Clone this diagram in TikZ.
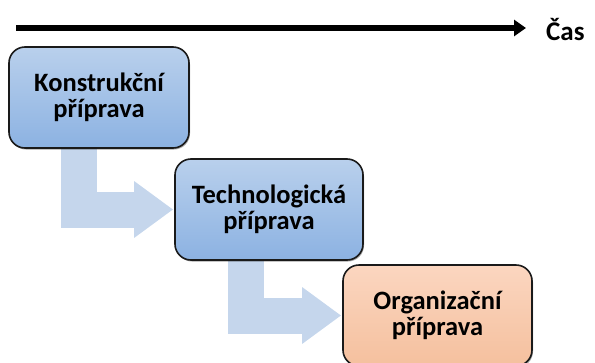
\documentclass[tikz,border=0pt]{standalone}
\usepackage{fontspec}
\setmainfont{Carlito}
\usetikzlibrary{arrows.meta,backgrounds,shadows}
\definecolor{boxtopblue}{HTML}{B9D0EC}
\definecolor{boxbotblue}{HTML}{8CB2E2}
\definecolor{boxtoporange}{HTML}{FBD6C0}
\definecolor{boxbotorange}{HTML}{F5C09E}
\definecolor{flowblue}{HTML}{C5D6EC}
\definecolor{edge}{HTML}{1A1A1A}
\tikzset{
  stage/.style={draw=edge, line width=1.6pt, rounded corners=16pt,
    align=center, font=\fontsize{26.5}{25.5}\selectfont\bfseries,
    minimum height=101pt, inner sep=0pt,
    drop shadow={shadow xshift=1pt, shadow yshift=-1.5pt, opacity=0.35, fill=black}},
  bluestage/.style={stage, top color=boxtopblue, bottom color=boxbotblue},
  orangestage/.style={stage, top color=boxtoporange, bottom color=boxbotorange},
  flow/.style={draw=flowblue, line width=36pt, line join=miter,
    -{Triangle[length=39pt, width=54pt, fill=flowblue]}},
  timeline/.style={line width=5.5pt, -{Triangle[length=12pt, width=16pt]}},
  caption/.style={font=\fontsize{27}{30}\selectfont\bfseries, inner sep=0pt, anchor=west}
}
\begin{document}
\begin{tikzpicture}[x=1pt, y=-1pt]
  \useasboundingbox (0,0) rectangle (595,362);

  % time axis
  \coordinate (t0) at (16,28);
  \coordinate (t1) at (526,28);
  \node[caption] (cas) at (546,29) {Čas};
  \draw[timeline] (t0) -- (t1);

  % the three preparation stages
  \node[bluestage, minimum width=180pt] (k) at (99,97.5) {Konstrukční\\příprava};
  \node[bluestage, minimum width=188pt] (t) at (269,209.5) {Technologická\\příprava};
  \node[orangestage, minimum width=189pt] (o) at (437.5,315.5) {Organizační\\příprava};

  % bent flow arrows between stages
  \begin{scope}[on background layer]
    \draw[flow] ([xshift=-20pt]k.south) |- ([xshift=-1pt]t.west);
    \draw[flow] ([xshift=-23pt]t.south) |- ([xshift=-1pt]o.west);
  \end{scope}
\end{tikzpicture}
\end{document}
